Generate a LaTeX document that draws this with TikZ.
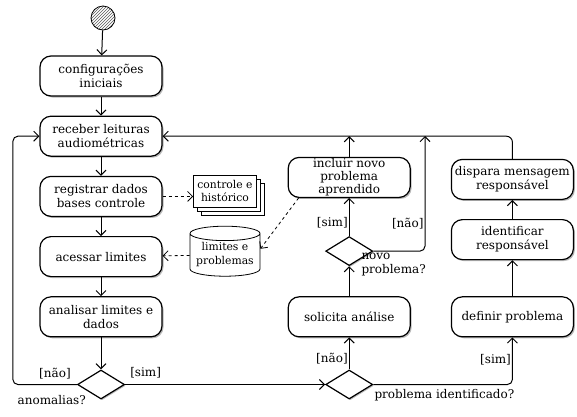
\documentclass[tikz,border=0pt]{standalone}
\usepackage{fontspec}
\setmainfont{DejaVu Serif}
\usetikzlibrary{positioning}
\usetikzlibrary{shapes.geometric}
\usetikzlibrary{shadows}
\usetikzlibrary{patterns}
\usetikzlibrary{arrows.meta}

\begin{document}
\begin{tikzpicture}[x=1pt, y=-1pt, node distance=19pt, align=center,
        font=\fontsize{12}{14}\selectfont,
        acao/.style={draw, line width=1.2pt, rectangle, rounded corners=11pt, fill=white,
            minimum width=122pt, minimum height=40pt, inner sep=0pt,
            drop shadow={shadow xshift=1.5pt, shadow yshift=-1.5pt, fill=gray!55, opacity=1}},
        decisao/.style={draw, line width=1.2pt, diamond, fill=white, minimum width=47pt,
            minimum height=29pt, inner sep=0pt,
            drop shadow={shadow xshift=1.2pt, shadow yshift=-1.2pt, fill=gray!55, opacity=1}},
        nota/.style={draw, thick, fill=white, font=\fontsize{10.8}{13}\selectfont,
            minimum width=63pt, minimum height=32pt, inner sep=0pt,
            double copy shadow={shadow xshift=4pt, shadow yshift=-4pt}},
        banco/.style={draw, thick, fill=white, cylinder, shape border rotate=90, aspect=0.25,
            minimum width=70pt, minimum height=50pt, inner sep=0pt,
            font=\fontsize{10.8}{14}\selectfont},
        seta/.style={>={Straight Barb[length=5pt, width=10pt]}, ->, line width=1pt},
        setatrac/.style={seta, dashed, thick},
        rotulo/.style={inner sep=1pt}]
    \useasboundingbox (0,0) rectangle (577,416);

    % coluna principal
    \node[circle, draw, thick, minimum size=24pt, pattern=north east lines,
          pattern color=gray!70!black] (inicio) at (103,18) {};
    \node[acao] (config) at (101,76) {configurações\\iniciais};
    \node[acao, below=of config] (receber) {receber leituras\\audiométricas};
    \node[acao, below=of receber] (registrar) {registrar dados\\bases controle};
    \node[acao, below=of registrar] (acessar) {acessar limites};
    \node[acao, below=of acessar] (analisar) {analisar limites e\\dados};
    \node[decisao, below=32pt of analisar] (anomalias) {};

    % dados
    \node[nota] (controle) at (225,191) {controle e\\histórico};
    \node[banco] (limites) at (225,255) {limites e\\problemas};

    % tratamento de anomalias
    \node[acao, right=125pt of analisar] (solicita) {solicita análise};
    \node[decisao, below=32pt of solicita] (identificado) {};
    \node[decisao, above=30pt of solicita] (novo) {};
    \node[acao, above=38pt of novo, font=\fontsize{12}{13}\selectfont] (incluir) {incluir novo\\problema\\aprendido};
    \node[acao, right=40pt of solicita] (definir) {definir problema};
    \node[acao, above=36pt of definir] (identificar) {identificar\\responsável};
    \node[acao, above=of identificar] (dispara) {dispara mensagem\\responsável};
    \coordinate (retorno) at (425,136);

    % rotulos das decisoes
    \node[rotulo, above left=4pt and 5pt of anomalias.west] (naoA) {[não]};
    \node[rotulo, above right=5pt and 4pt of anomalias.east] (simA) {[sim]};
    \node[rotulo, left=14pt of anomalias.south] (txtA) {anomalias?};
    \node[rotulo, below right=4pt and 0pt of identificado.east] (txtB) {problema identificado?};
    \node[rotulo, below right=1pt and -13pt of novo.east, align=left] (txtC) {novo\\problema?};

    \draw[seta] (inicio) -- (config);
    \draw[seta] (config) -- (receber);
    \draw[seta] (receber) -- (registrar);
    \draw[seta] (registrar) -- (acessar);
    \draw[seta] (acessar) -- (analisar);
    \draw[seta] (analisar) -- (anomalias);
    \draw[seta, rounded corners=5pt] (anomalias.west) -- ++(-64,0) |- (receber.west);
    \draw[seta] (anomalias.east) -- (identificado.west);

    \draw[setatrac] (registrar.east) -- (registrar.east -| controle.west);
    \draw[setatrac] (limites) -- (acessar);
    \draw[setatrac] ([xshift=11pt]incluir.south west) -- (limites.10);

    \draw[seta] (identificado) -- node[rotulo, left, pos=0.35] {[não]} (solicita);
    \draw[seta, rounded corners=5pt] (identificado.east) -| node[rotulo, left, pos=0.76] {[sim]} (definir.south);
    \draw[seta] (solicita) -- (novo);
    \draw[seta] (novo) -- node[rotulo, left, pos=0.36] {[sim]} (incluir);
    \draw[seta, rounded corners=5pt] (novo.east) -| node[rotulo, left, pos=0.62] {[não]} (retorno);
    \draw[seta] (incluir.north) -- (incluir.north |- receber.east);
    \draw[seta] (definir) -- (identificar);
    \draw[seta] (identificar) -- (dispara);
    \draw[seta, rounded corners=6pt] (dispara.north) |- (receber.east);
\end{tikzpicture}
\end{document}
